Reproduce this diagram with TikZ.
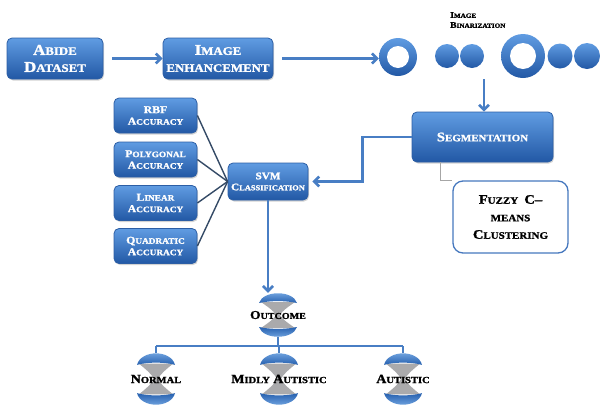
\documentclass[tikz,border=0pt]{standalone}
\usepackage{fontspec}
\setmainfont{Liberation Serif}
\newfontfamily\scf[FakeStretch=1.12, BoldFeatures={FakeBold=1.5}, Ligatures=TeX]{Liberation Serif}
\usetikzlibrary{arrows.meta,shadows}
\definecolor{boxtop}{RGB}{96,156,226}
\definecolor{boxbot}{RGB}{34,88,165}
\definecolor{boxborder}{RGB}{44,94,165}
\definecolor{arrowc}{RGB}{72,126,196}
\definecolor{accline}{RGB}{52,74,102}
\definecolor{fuzzyc}{RGB}{70,120,190}
\definecolor{hgray}{RGB}{170,170,172}
\definecolor{capl}{RGB}{130,180,235}
\definecolor{capd}{RGB}{38,96,175}
\newcommand\SC[4]{{\fontsize{#1}{#1}\selectfont #3}{\fontsize{#2}{#2}\selectfont #4}}
\begin{document}
\begin{tikzpicture}[x=1pt,y=-1pt,
  bluebox/.style={draw=boxborder, line width=0.8pt, rounded corners=5pt,
    top color=boxtop, bottom color=boxbot,
    drop shadow={shadow xshift=1pt,shadow yshift=-1.5pt,opacity=0.35},
    text=white, align=center, inner sep=1pt},
  accbox/.style={bluebox, minimum width=83pt, minimum height=35pt,
    font=\scf\bfseries\fontsize{10}{11.5}\selectfont},
  fuzzybox/.style={draw=fuzzyc, line width=1.3pt, rounded corners=10pt, fill=white,
    minimum width=115pt, minimum height=72pt, align=center, text=black,
    font=\scf\bfseries\fontsize{11}{17.5}\selectfont},
  dotc/.style={circle, inner sep=0pt, draw=none, top color=boxtop, bottom color=boxbot},
  arr/.style={draw=arrowc, line width=2.6pt, -{Straight Barb[length=5pt,width=10pt]}},
  accl/.style={draw=accline, line width=1.4pt},
  treeline/.style={draw=arrowc, line width=1.9pt},
  hgtext/.style={inner sep=0pt, text=black, align=center, minimum width=38pt,
    font=\scf\bfseries\fontsize{12}{12}\selectfont},
  hglass/.pic={
    \fill[hgray] (-17,-13) .. controls (-10,-8) and (-4,-4) .. (-2,0) .. controls (-4,4) and (-10,8) .. (-17,13)
      -- (17,13) .. controls (10,8) and (4,4) .. (2,0) .. controls (4,-4) and (10,-8) .. (17,-13) -- cycle;
    \shade[top color=capl, bottom color=capd] (-19,-12) .. controls (-15,-25) and (15,-25) .. (19,-12) .. controls (8,-14.5) and (-8,-14.5) .. (-19,-12);
    \shade[top color=capd, bottom color=capl] (-19,12) .. controls (-15,25) and (15,25) .. (19,12) .. controls (8,14.5) and (-8,14.5) .. (-19,12);
  }]
\useasboundingbox (0,0) rectangle (600,405);

% top row
\node[bluebox, minimum width=96pt, minimum height=41pt,
  font=\scf\bfseries\fontsize{10}{17}\selectfont] (abide) at (55,58.5)
  {\SC{15}{11.5}{A}{BIDE}\\\SC{15}{11.5}{D}{ATASET}};
\node[bluebox, minimum width=110pt, minimum height=41pt,
  font=\scf\bfseries\fontsize{10}{17}\selectfont] (enh) at (218,58.5)
  {\SC{15}{11.5}{I}{MAGE}\\\SC{15}{11.5}{}{ENHANCEMENT}};

% binarization rings and dots
\node[dotc, minimum size=38pt] (r1) at (398,57) {};
\fill[white] (r1.center) circle[radius=11pt];
\node[dotc, minimum size=24pt] (c1) at (447,56) {};
\node[dotc, minimum size=24pt] (c2) at (472,56) {};
\node[dotc, minimum size=44pt] (r2) at (523,56) {};
\fill[white] (r2.center) circle[radius=13pt];
\node[dotc, minimum size=25pt] (c3) at (560,56) {};
\node[dotc, minimum size=26pt] (c4) at (587,56) {};
\node[anchor=north west, align=left, inner sep=0pt, text=black,
  font=\scf\bfseries\fontsize{8}{10}\selectfont] (binl) at (450,12)
  {\SC{8.5}{6.4}{I}{MAGE}\\\SC{8.5}{6.4}{B}{INARIZATION}};

% segmentation & fuzzy
\node[bluebox, minimum width=141pt, minimum height=50pt,
  font=\scf\bfseries\fontsize{10}{12}\selectfont] (seg) at (482.5,137)
  {\SC{13}{9.8}{S}{EGMENTATION}};
\node[fuzzybox] (fcm) at (510.5,217)
  {\SC{13}{9.8}{F}{UZZY}\ \ \SC{13}{9.8}{C\textendash}{}\\\SC{13}{9.8}{}{MEANS}\\\SC{13}{9.8}{C}{LUSTERING}};

% SVM & accuracy boxes
\node[bluebox, minimum width=80pt, minimum height=37pt,
  font=\scf\bfseries\fontsize{10}{11}\selectfont] (svm) at (268,181.5)
  {\SC{10}{7.5}{SVM}{}\\\SC{10}{7.5}{C}{LASSIFICATION}};
\node[accbox] (rbf) at (155.5,115.5) {\SC{10.5}{8.3}{RBF}{}\\\SC{10.5}{8.3}{A}{CCURACY}};
\node[accbox] (poly) at (155.5,159.5) {\SC{10.5}{8.3}{P}{OLYGONAL}\\\SC{10.5}{8.3}{A}{CCURACY}};
\node[accbox] (lin) at (155.5,203) {\SC{10.5}{8.3}{L}{INEAR}\\\SC{10.5}{8.3}{A}{CCURACY}};
\node[accbox] (quad) at (155.5,246) {\SC{10.5}{8.3}{Q}{UADRATIC}\\\SC{10.5}{8.3}{A}{CCURACY}};

% hourglasses
\pic at (278,315) {hglass};
\pic[yscale=1.18] at (156,379) {hglass};
\pic[yscale=1.18] at (279,379) {hglass};
\pic[yscale=1.18] at (403,379) {hglass};
\node[hgtext, minimum height=44pt] (out) at (278,315) {\SC{12}{9}{O}{UTCOME}};
\node[hgtext, minimum height=52pt] (norm) at (156,379) {\SC{12.5}{9.4}{N}{ORMAL}};
\node[hgtext, minimum height=52pt] (mid) at (279,379) {\SC{12.5}{9.4}{M}{IDLY}\ \SC{12.5}{9.4}{A}{UTISTIC}};
\node[hgtext, minimum height=52pt] (aut) at (403,379) {\SC{12.5}{9.4}{A}{UTISTIC}};

% connectors
\draw[arr, shorten <=9pt] (abide.east) -- (enh.west);
\draw[arr, shorten <=9pt] (enh.east) -- (enh.east -| r1.west);
\coordinate (bin) at (484,79);
\draw[arr] (bin) -- (bin |- seg.north);
\draw[arr, shorten >=4pt] (seg.west) -- ++(-49,0) |- (svm.east);
\draw[gray!70, line width=0.6pt] ([xshift=29pt]seg.south west) |- (fcm.north west);
\draw[accl] (rbf.east) -- (svm.west);
\draw[accl] (poly.east) -- (svm.west);
\draw[accl] (lin.east) -- (svm.west);
\draw[accl] (quad.east) -- (svm.west);
\draw[arr] (svm.south) -- (svm.south |- out.north);
\draw[treeline] (out.south) -- ++(0,9) coordinate (j);
\draw[treeline] (j -| norm.north) -- (j -| aut.north);
\draw[treeline] (j -| norm.north) -- (norm.north);
\draw[treeline] (j -| mid.north) -- (mid.north);
\draw[treeline] (j -| aut.north) -- (aut.north);
\end{tikzpicture}
\end{document}
